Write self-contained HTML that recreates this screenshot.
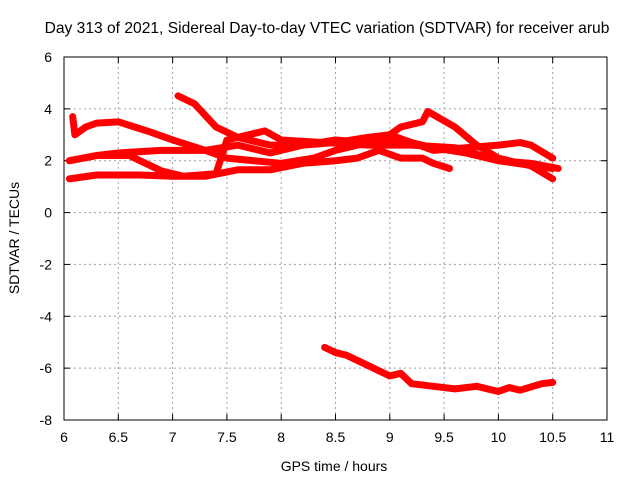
<!DOCTYPE html>
<html><head><meta charset="utf-8"><style>
body{margin:0;background:#fff}
svg{display:block;font-family:"Liberation Sans",sans-serif}
</style></head><body>
<svg id="chart" width="640" height="480">
<text x="327" y="33" font-size="15.6" text-anchor="middle">Day 313 of 2021, Sidereal Day-to-day VTEC variation (SDTVAR) for receiver arub</text>
<text x="334" y="471" font-size="14" text-anchor="middle">GPS time / hours</text>
<text transform="translate(19,238) rotate(-90)" font-size="14" text-anchor="middle">SDTVAR / TECUs</text>
<g id="grid"></g><g id="series"></g>
<rect x="64" y="57" width="543" height="363" fill="none" stroke="#000"/>
</svg>
<script>
const xTicks=[6,6.5,7,7.5,8,8.5,9,9.5,10,10.5,11];
const xTickLabels=["6","6.5","7","7.5","8","8.5","9","9.5","10","10.5","11"];
const yTicks=[6,4,2,0,-2,-4,-6,-8];
const yTickLabels=["6","4","2","0","-2","-4","-6","-8"];
const s1x=[6.08,6.1,6.2,6.3,6.5,6.65,6.8,7.0,7.3,7.6,7.9,8.2,8.5,8.8,9.0,9.2,9.4,9.7,10.0,10.2,10.3,10.5];
const s1y=[3.7,3.0,3.3,3.45,3.5,3.3,3.1,2.8,2.4,2.6,2.3,2.6,2.7,2.9,3.0,2.7,2.4,2.5,2.6,2.7,2.6,2.1];
const s2x=[7.05,7.2,7.4,7.6,7.9,8.2,8.5,8.8,9.0,9.1,9.3,9.35,9.6,9.8,10.0,10.3,10.5];
const s2y=[4.5,4.2,3.3,2.9,2.6,2.6,2.8,2.7,3.0,3.3,3.5,3.9,3.3,2.6,2.1,1.8,1.3];
const s3x=[6.05,6.3,6.5,6.9,7.3,7.5,8.0,8.3,8.5,8.8,9.1,9.4,9.7,10.0,10.3,10.55];
const s3y=[2.0,2.2,2.3,2.4,2.4,2.1,1.9,2.1,2.4,2.7,2.8,2.5,2.3,2.0,1.9,1.7];
const s4x=[6.05,6.3,6.7,7.0,7.3,7.6,7.9,8.2,8.5,8.7,8.9,9.1,9.3,9.4,9.55];
const s4y=[1.3,1.45,1.45,1.4,1.4,1.65,1.65,1.9,2.0,2.1,2.4,2.1,2.1,1.9,1.7];
const s5x=[6.05,6.3,6.6,6.9,7.1,7.4,7.5,7.85,8.0,8.4,8.8,9.2,9.6,10.0,10.5];
const s5y=[2.0,2.2,2.2,1.6,1.4,1.5,2.8,3.15,2.8,2.7,2.6,2.6,2.5,2.0,1.7];
const s6x=[8.4,8.5,8.6,8.8,9.0,9.1,9.2,9.4,9.6,9.8,10.0,10.1,10.2,10.4,10.5];
const s6y=[-5.2,-5.4,-5.5,-5.9,-6.3,-6.2,-6.6,-6.7,-6.8,-6.7,-6.9,-6.75,-6.85,-6.6,-6.55];
const NS="http://www.w3.org/2000/svg";
const X=v=>64+(v-6)*543/5, Y=v=>57+(6-v)*363/14;
const grid=document.getElementById('grid'), ser=document.getElementById('series');
function mk(t,a,p){const e=document.createElementNS(NS,t);for(const k in a)e.setAttribute(k,a[k]);p.appendChild(e);return e;}
xTicks.forEach((v,i)=>{
 if(i>0&&i<xTicks.length-1){const l=mk('line',{x1:X(v),x2:X(v),y1:57,y2:420,stroke:'#a0a0a0','stroke-dasharray':'2,3'},grid);
 
 }
 mk('line',{x1:X(v),x2:X(v),y1:420,y2:414,stroke:'#000'},grid);
 mk('line',{x1:X(v),x2:X(v),y1:57,y2:63,stroke:'#000'},grid);
 const t=mk('text',{x:X(v),y:442,'font-size':14,'text-anchor':'middle'},grid);t.textContent=xTickLabels[i];
 
 
});
yTicks.forEach((v,i)=>{
 if(i>0&&i<yTicks.length-1){const l=mk('line',{x1:64,x2:607,y1:Y(v),y2:Y(v),stroke:'#a0a0a0','stroke-dasharray':'2,3'},grid);
 
 }
 mk('line',{x1:64,x2:70,y1:Y(v),y2:Y(v),stroke:'#000'},grid);
 mk('line',{x1:607,x2:601,y1:Y(v),y2:Y(v),stroke:'#000'},grid);
 const t=mk('text',{x:52,y:Y(v)+5,'font-size':14,'text-anchor':'end'},grid);t.textContent=yTickLabels[i];
 
 
});
[[s1x,s1y],[s2x,s2y],[s3x,s3y],[s4x,s4y],[s5x,s5y],[s6x,s6y]].forEach((s,i)=>{
 const pts=s[0].map((x,j)=>X(x)+','+Y(s[1][j])).join(' ');
 const p=mk('polyline',{points:pts,fill:'none',stroke:'#ff0000','stroke-width':7,'stroke-linejoin':'round','stroke-linecap':'round'},ser);
 
 
});
</script>
</body></html>
